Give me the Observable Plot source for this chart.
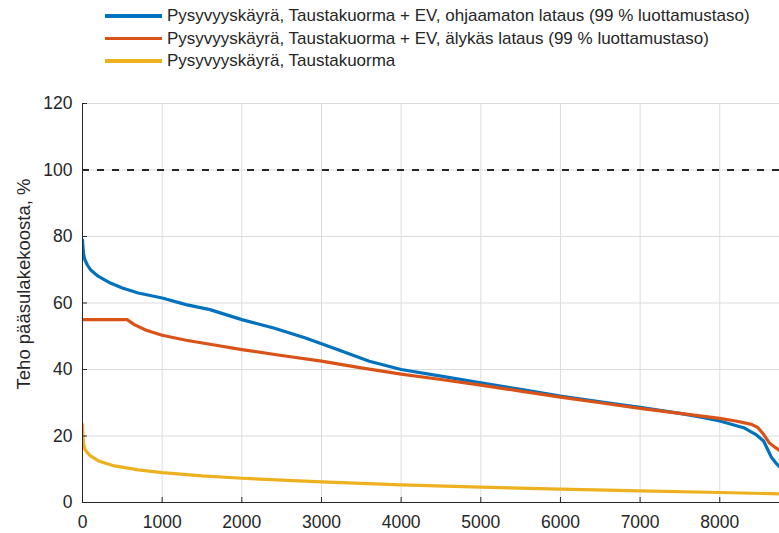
<!DOCTYPE html>
<html><head><meta charset="utf-8">
<script src="https://cdn.jsdelivr.net/npm/d3@7"></script>
<script src="https://cdn.jsdelivr.net/npm/@observablehq/plot@0.6"></script>
<style>
body{margin:0;background:#fff;font-family:"Liberation Sans",Arial,sans-serif;overflow:hidden;width:779px;height:533px}
#legend{height:85px;position:relative}
.item{position:absolute;left:105px;display:flex;align-items:center;font-size:17px;color:#262626;white-space:nowrap;line-height:20px}
.sw{width:57px;height:3.5px;margin-right:5px}
</style></head><body>
<div id="legend"></div><div id="chart"></div>
<script>
const seriesNames = [
  "Pysyvyyskäyrä, Taustakuorma + EV, ohjaamaton lataus (99 % luottamustaso)",
  "Pysyvyyskäyrä, Taustakuorma + EV, älykäs lataus (99 % luottamustaso)",
  "Pysyvyyskäyrä, Taustakuorma"
];
const seriesColors = ["#0072BD", "#D95319", "#EDB120"];

const blueHours = [0, 5, 15, 30, 60, 100, 200, 350, 500, 700, 1000, 1300, 1600, 2000, 2400, 2800, 3200, 3600, 4000, 4500, 5000, 5500, 6000, 6500, 7000, 7500, 7800, 8000, 8300, 8450, 8550, 8600, 8650, 8700, 8760];
const blueValues = [79, 77, 74.5, 73, 71.5, 70, 68, 66, 64.5, 63, 61.5, 59.5, 58, 55, 52.5, 49.5, 46, 42.5, 40, 38, 36, 34, 32, 30.3, 28.6, 26.8, 25.5, 24.5, 22.5, 20.5, 18.5, 16, 13.5, 12, 10.5];

const orangeHours = [0, 560, 650, 800, 1000, 1300, 1600, 2000, 2500, 3000, 3500, 4000, 4500, 5000, 5500, 6000, 6500, 7000, 7500, 8000, 8200, 8400, 8480, 8550, 8620, 8700, 8760];
const orangeValues = [55, 55, 53.5, 51.8, 50.3, 48.8, 47.6, 46, 44.2, 42.5, 40.5, 38.6, 37, 35.3, 33.5, 31.7, 30, 28.3, 26.8, 25.3, 24.5, 23.5, 22.5, 20.5, 18, 16.5, 15.5];

const yellowHours = [0, 5, 15, 30, 60, 100, 200, 400, 700, 1000, 1500, 2000, 3000, 4000, 5000, 6000, 7000, 8000, 8760];
const yellowValues = [23.5, 20, 17.5, 16, 15, 14, 12.5, 11, 9.8, 9, 8, 7.3, 6.2, 5.3, 4.6, 4, 3.5, 3, 2.6];

const xTicks = [0, 1000, 2000, 3000, 4000, 5000, 6000, 7000, 8000];
const yTicks = [0, 20, 40, 60, 80, 100, 120];
const limitValue = [100];
const yLabel = "Teho pääsulakekoosta, %";

const toRows = (hs, vs, s) => hs.map((h, i) => ({h, v: vs[i], s}));
const data = [
  ...toRows(blueHours, blueValues, 0),
  ...toRows(orangeHours, orangeValues, 1),
  ...toRows(yellowHours, yellowValues, 2)
];

// legend
const legend = document.getElementById("legend");
const legendTops = [6, 28.5, 51];
seriesNames.forEach((n, i) => {
  const d = document.createElement("div");
  d.className = "item";
  d.style.top = legendTops[i] + "px";
  d.innerHTML = `<span class="sw" style="background:${seriesColors[i]}"></span><span>${n}</span>`;
  legend.appendChild(d);
});

const chart = Plot.plot({
  width: 779,
  height: 448,
  marginLeft: 82,
  marginRight: 0,
  marginTop: 18,
  marginBottom: 31,
  style: {fontFamily: "Liberation Sans, Arial, sans-serif", fontSize: "17.5px", color: "#262626", background: "white"},
  x: {domain: [0, 8750]},
  y: {domain: [0, 120]},
  marks: [
    Plot.gridX(xTicks, {stroke: "#dcdcdc", strokeOpacity: 1}),
    Plot.gridY(yTicks, {stroke: "#dcdcdc", strokeOpacity: 1}),
    Plot.ruleY(limitValue, {stroke: "#262626", strokeWidth: 2, strokeDasharray: "7,8"}),
    Plot.line(data, {x: "h", y: "v", z: "s", stroke: d => seriesColors[d.s], strokeWidth: 3.2, clip: true}),
    Plot.axisX({ticks: xTicks, tickSize: -5, tickPadding: 18, tickFormat: d => String(d), stroke: "#262626", fill: "#262626", label: null}),
    Plot.axisY({ticks: yTicks, tickSize: -5, tickPadding: 15, tickFormat: d => String(d), stroke: "#262626", fill: "#262626", label: null}),
    Plot.ruleX([0], {stroke: "#262626"}),
    Plot.ruleY([0], {stroke: "#262626"}),
    Plot.text([yLabel], {frameAnchor: "left", textAnchor: "middle", dx: -58, dy: -19, rotate: -90, fontSize: 18.5, fill: "#262626", text: d => d})
  ]
});
document.getElementById("chart").appendChild(chart);
</script>
</body></html>
